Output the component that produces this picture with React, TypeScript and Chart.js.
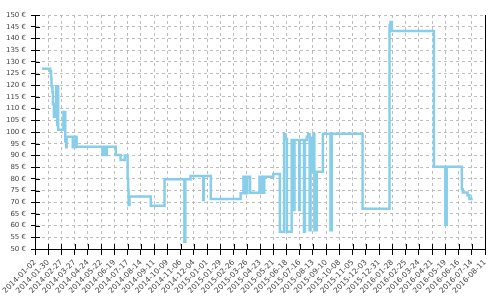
import React, { useEffect, useRef } from "react";
import { Chart, registerables } from "chart.js";

Chart.register(...registerables);

const START = "2014-01-02";
const END = "2016-08-11";
const TICK_STEP_DAYS = 28;

const dates: string[] = [
  "2014-01-17", "2014-02-03", "2014-02-05", "2014-02-06", "2014-02-08", "2014-02-09",
  "2014-02-11", "2014-02-13", "2014-02-15", "2014-02-16", "2014-02-18", "2014-02-19",
  "2014-02-20", "2014-03-03", "2014-03-04", "2014-03-06", "2014-03-07", "2014-03-09",
  "2014-03-10", "2014-03-23", "2014-03-25", "2014-03-28", "2014-03-29", "2014-03-31",
  "2014-05-25", "2014-05-28", "2014-05-30", "2014-06-03", "2014-06-22", "2014-07-02",
  "2014-07-11", "2014-07-17", "2014-07-18", "2014-07-19", "2014-07-21", "2014-09-04",
  "2014-10-03", "2014-11-14", "2014-11-16", "2014-11-27", "2014-12-24", "2014-12-25",
  "2015-01-09", "2015-03-13", "2015-03-19", "2015-03-21", "2015-03-23", "2015-03-25",
  "2015-03-27", "2015-04-02", "2015-04-22", "2015-04-24", "2015-04-27", "2015-04-29",
  "2015-05-02", "2015-05-21", "2015-06-04", "2015-06-13", "2015-06-16", "2015-06-19",
  "2015-06-29", "2015-07-01", "2015-07-02", "2015-07-04", "2015-07-05", "2015-07-15",
  "2015-07-16", "2015-07-25", "2015-07-27", "2015-07-31", "2015-08-03", "2015-08-06",
  "2015-08-08", "2015-08-10", "2015-08-14", "2015-08-16", "2015-08-21", "2015-09-03",
  "2015-09-19", "2015-09-22", "2015-11-26", "2016-01-22", "2016-01-24", "2016-01-27",
  "2016-04-25", "2016-05-19", "2016-05-22", "2016-06-23", "2016-06-25", "2016-07-05",
  "2016-07-09", "2016-07-16",
];

const prices: number[] = [
  127, 126, 123, 119.5, 117, 112,
  106.5, 112, 106.5, 119.5, 103, 119.5,
  101, 108.5, 101, 108.5, 96, 93.5,
  98, 93.5, 96.5, 93.5, 98, 93.7,
  90.2, 93.7, 90.2, 93.7, 90.2, 88,
  90, 80, 75, 68.8, 72.4, 68.5,
  79.8, 53.1, 79.8, 81.2, 70.9, 81.2,
  71.4, 73.8, 80.9, 73.8, 80.9, 73.8,
  80.9, 74, 80.9, 74, 80.9, 74,
  80.9, 82, 57.4, 99, 97, 57.4,
  96.6, 66.7, 96.6, 66.7, 96.6, 66.7,
  96.6, 57.4, 96.6, 98, 99, 58,
  97.5, 83, 99, 58, 83, 99.2,
  58, 99.2, 67.2, 145.5, 147, 143.2,
  85.2, 60.3, 85.2, 75.5, 74.1, 73,
  71.4, 71.4,
];

const Y_MIN = 50;
const Y_MAX = 150;
const Y_STEP = 5;
const CURRENCY = "€";

const DAY_MS = 86400000;
const startMs = Date.parse(START + "T00:00:00Z");
const toDay = (d: string) => Math.round((Date.parse(d + "T00:00:00Z") - startMs) / DAY_MS);
const fmtDay = (v: number) => new Date(startMs + v * DAY_MS).toISOString().slice(0, 10);

const crossTicks = {
  id: "crossTicks",
  beforeDatasetsDraw(chart: any) {
    const { ctx, chartArea, scales } = chart;
    const a = (p: number) => Math.round(p) + 0.5;
    ctx.save();
    ctx.strokeStyle = "#000";
    ctx.lineWidth = 1;
    ctx.beginPath();
    scales.y.ticks.forEach((t: any) => {
      const py = a(scales.y.getPixelForValue(t.value));
      ctx.moveTo(chartArea.left, py);
      ctx.lineTo(chartArea.left + 5, py);
    });
    scales.x.ticks.forEach((t: any) => {
      const px = a(scales.x.getPixelForValue(t.value));
      ctx.moveTo(px, chartArea.bottom);
      ctx.lineTo(px, chartArea.bottom - 5);
    });
    const rx = a(chartArea.right);
    ctx.moveTo(rx, chartArea.top);
    ctx.lineTo(rx, chartArea.bottom);
    ctx.stroke();
    ctx.restore();
  },
};

export default function App() {
  const ref = useRef<HTMLCanvasElement | null>(null);
  useEffect(() => {
    if (!ref.current) return;
    const points = dates.map((d, i) => ({ x: toDay(d), y: prices[i] }));
    const yFont = { family: "DejaVu Sans", size: 7 };
    const xFont = { family: "DejaVu Sans", size: 7.5 };
    const chart = new Chart(ref.current, {
      type: "line",
      data: {
        datasets: [
          {
            data: points,
            borderColor: "#87CEEB",
            borderWidth: 2.5,
            pointRadius: 0,
            stepped: "before",
            fill: false,
          },
        ],
      },
      options: {
        animation: false,
        responsive: false,
        events: [],
        layout: { padding: { top: 15, right: 15, left: 0, bottom: 0 } },
        plugins: { legend: { display: false }, tooltip: { enabled: false } },
        scales: {
          x: {
            type: "linear",
            min: 0,
            max: toDay(END),
            afterFit: (s: any) => { s.height = 51; },
            afterBuildTicks: (s: any) => {
              const t = [];
              for (let v = 0; v <= toDay(END); v += TICK_STEP_DAYS) t.push({ value: v });
              s.ticks = t;
            },
            ticks: {
              autoSkip: false,
              minRotation: 45,
              maxRotation: 45,
              padding: 3,
              color: "#444",
              font: xFont,
              callback: (v: any) => fmtDay(Number(v)),
            },
            grid: { color: "#bdbdbd", tickColor: "#000", tickLength: 6, lineWidth: 1 },
            border: { color: "#000", width: 1, dash: [3, 3] },
          },
          y: {
            type: "linear",
            min: Y_MIN,
            max: Y_MAX,
            afterFit: (s: any) => { s.width = 35; },
            ticks: {
              stepSize: Y_STEP,
              padding: 5,
              color: "#444",
              font: yFont,
              callback: (v: any) => `${v} ${CURRENCY}`,
            },
            grid: { color: "#bdbdbd", tickColor: "#000", tickLength: 4, lineWidth: 1 },
            border: { color: "#000", width: 1, dash: [3, 3] },
          },
        },
      },
      plugins: [crossTicks],
    });
    return () => chart.destroy();
  }, []);
  return (
    <div style={{ position: "absolute", left: 0, top: 0, width: 500, height: 300 }}>
      <canvas ref={ref} width={500} height={300} />
    </div>
  );
}
